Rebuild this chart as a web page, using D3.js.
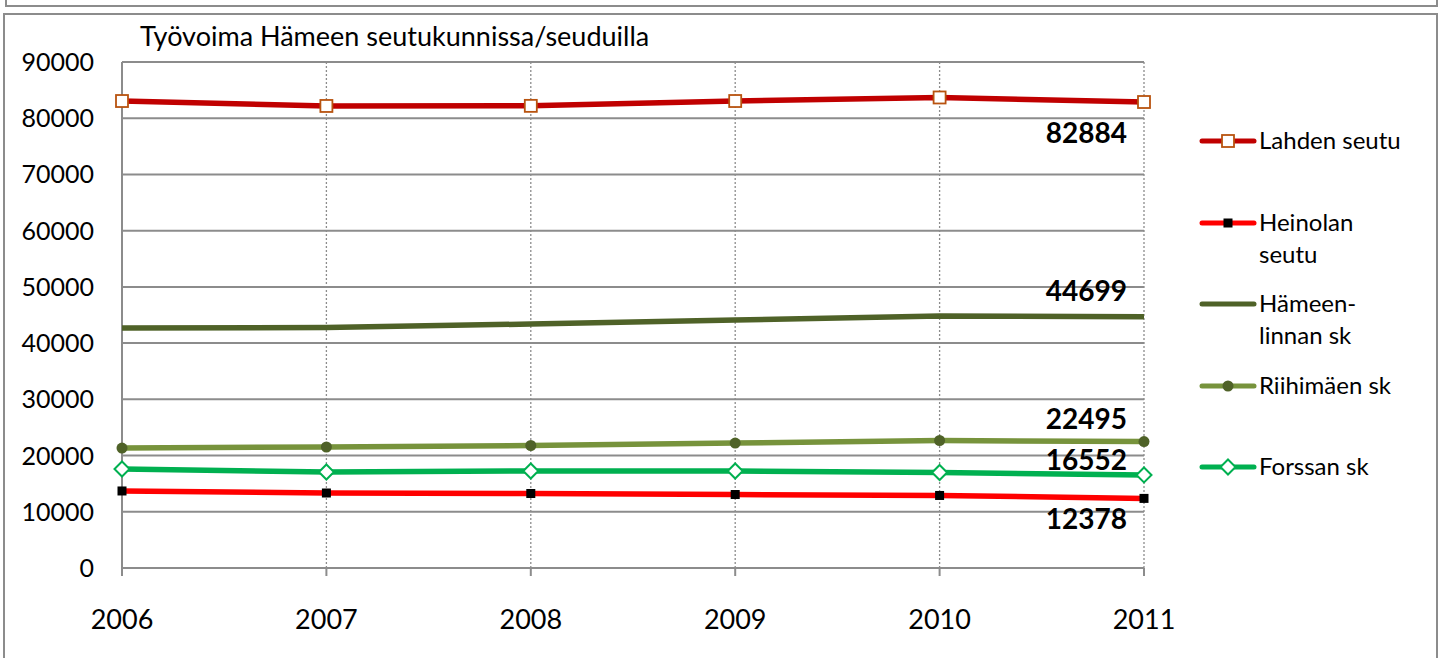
<!DOCTYPE html>
<html>
<head>
<meta charset="utf-8">
<script src="https://d3js.org/d3.v7.min.js"></script>
<style>
  body { margin: 0; background: #fff; }
  svg text { font-family: Lato, "Open Sans", sans-serif; fill: #000; }
</style>
</head>
<body>
<div id="chart"></div>
<script>
// vuodet ja sarjat (luettu kuvasta)
const years = [2006, 2007, 2008, 2009, 2010, 2011];
const lahti = [83060, 82180, 82200, 83060, 83690, 82884];
const heinola = [13700, 13340, 13250, 13070, 12900, 12378];
const hameenlinna = [42690, 42780, 43400, 44110, 44820, 44699];
const riihimaki = [21340, 21520, 21790, 22230, 22680, 22495];
const forssa = [17610, 17080, 17250, 17250, 16990, 16552];
const yTicks = [0, 10000, 20000, 30000, 40000, 50000, 60000, 70000, 80000, 90000];
const seriesNames = ["Lahden seutu", "Heinolan seutu", "Hämeen-linnan sk", "Riihimäen sk", "Forssan sk"];

const ctx = { width: 1445, height: 658 };

const series = [
  { name: "Lahden seutu", lines: ["Lahden seutu"], values: lahti, color: "#C00000", marker: "square", mFill: "#fff", mStroke: "#B8530F", legendY: 141 },
  { name: "Heinolan seutu", lines: ["Heinolan", "seutu"], values: heinola, color: "#FF0000", marker: "square", mFill: "#000", mStroke: "#000", legendY: 223 },
  { name: "Hämeen-linnan sk", lines: ["Hämeen-", "linnan sk"], values: hameenlinna, color: "#4F6228", marker: null, legendY: 304 },
  { name: "Riihimäen sk", lines: ["Riihimäen sk"], values: riihimaki, color: "#77933C", marker: "circle", mFill: "#4F6228", mStroke: "#4F6228", legendY: 386 },
  { name: "Forssan sk", lines: ["Forssan sk"], values: forssa, color: "#00B050", marker: "diamond", mFill: "#fff", mStroke: "#00B050", legendY: 467 }
];

function createViz() {
  const svg = d3.select("#chart").append("svg")
    .attr("width", ctx.width).attr("height", ctx.height);

  // kehykset
  svg.append("path")
    .attr("d", "M6,-2 V6 H1437 V-2")
    .attr("fill", "none").attr("stroke", "#8c8c8c").attr("stroke-width", 2);
  svg.append("path")
    .attr("d", "M4,670 V14 H1437 V670")
    .attr("fill", "none").attr("stroke", "#8c8c8c").attr("stroke-width", 2);

  const x = d3.scalePoint().domain(years).range([122, 1144]);
  const y = d3.scaleLinear().domain([0, 90000]).range([568, 62]);

  // vaakaviivat
  svg.append("g")
    .selectAll("line").data(yTicks).join("line")
    .attr("x1", 122).attr("x2", 1144)
    .attr("y1", d => y(d)).attr("y2", d => y(d))
    .attr("stroke", "#8c8c8c").attr("stroke-width", 2);

  // pystyviivat pisteviivana
  svg.append("g")
    .selectAll("line").data(years.slice(1)).join("line")
    .attr("x1", d => x(d)).attr("x2", d => x(d))
    .attr("y1", 62).attr("y2", 568)
    .attr("stroke", "#8c8c8c").attr("stroke-width", 1.3)
    .attr("stroke-dasharray", "2,2");

  // akselit
  svg.append("line")
    .attr("x1", 122).attr("x2", 122).attr("y1", 62).attr("y2", 576)
    .attr("stroke", "#8c8c8c").attr("stroke-width", 2);
  svg.append("g")
    .selectAll("line").data(years.slice(1)).join("line")
    .attr("x1", d => x(d)).attr("x2", d => x(d))
    .attr("y1", 568).attr("y2", 576)
    .attr("stroke", "#8c8c8c").attr("stroke-width", 2);

  svg.append("g")
    .selectAll("text").data(yTicks).join("text")
    .attr("x", 94).attr("y", d => y(d) + 9)
    .attr("text-anchor", "end")
    .style("font-size", "25px")
    .text(d => d);

  svg.append("g")
    .selectAll("text").data(years).join("text")
    .attr("x", d => x(d)).attr("y", 629)
    .attr("text-anchor", "middle")
    .style("font-size", "27px")
    .text(d => d);

  // otsikko
  svg.append("text")
    .attr("x", 140).attr("y", 46)
    .style("font-size", "27px")
    .text("Työvoima Hämeen seutukunnissa/seuduilla");

  const line = d3.line().x((d, i) => x(years[i])).y(d => y(d));

  series.forEach(s => {
    svg.append("path")
      .datum(s.values)
      .attr("d", line)
      .attr("fill", "none")
      .attr("stroke", s.color)
      .attr("stroke-width", 5.5);
  });

  function drawMarker(g, s, cx, cy) {
    if (s.marker === "square") {
      const r = s.mFill === "#000" ? 4.5 : 6;
      g.append("rect")
        .attr("x", cx - r).attr("y", cy - r).attr("width", 2 * r).attr("height", 2 * r)
        .attr("fill", s.mFill).attr("stroke", s.mStroke).attr("stroke-width", s.mFill === "#000" ? 0 : 1.8);
    } else if (s.marker === "circle") {
      g.append("circle").attr("cx", cx).attr("cy", cy).attr("r", 5.5)
        .attr("fill", s.mFill);
    } else if (s.marker === "diamond") {
      const r = 7.5;
      g.append("path")
        .attr("d", `M${cx},${cy - r} L${cx + r},${cy} L${cx},${cy + r} L${cx - r},${cy} Z`)
        .attr("fill", s.mFill).attr("stroke", s.mStroke).attr("stroke-width", 2);
    }
  }

  series.forEach(s => {
    const g = svg.append("g");
    s.values.forEach((v, i) => drawMarker(g, s, x(years[i]), y(v)));
  });

  // viimeisen vuoden arvot
  const labelY = { "Lahden seutu": 143, "Heinolan seutu": 529, "Hämeen-linnan sk": 301, "Riihimäen sk": 429, "Forssan sk": 470 };
  svg.append("g")
    .selectAll("text").data(series).join("text")
    .attr("x", 1127).attr("y", d => labelY[d.name])
    .attr("text-anchor", "end")
    .style("font-size", "28px").style("font-weight", "bold")
    .text(d => d.values[d.values.length - 1]);

  // selite
  const leg = svg.append("g");
  series.forEach(s => {
    leg.append("line")
      .attr("x1", 1202).attr("x2", 1254)
      .attr("y1", s.legendY).attr("y2", s.legendY)
      .attr("stroke", s.color).attr("stroke-width", 5).attr("stroke-linecap", "round");
    drawMarker(leg, s, 1228, s.legendY);
    s.lines.forEach((t, k) => {
      leg.append("text")
        .attr("x", 1259).attr("y", s.legendY + 8 + k * 32)
        .style("font-size", "24px")
        .text(t);
    });
  });
}

createViz();
</script>
</body>
</html>
